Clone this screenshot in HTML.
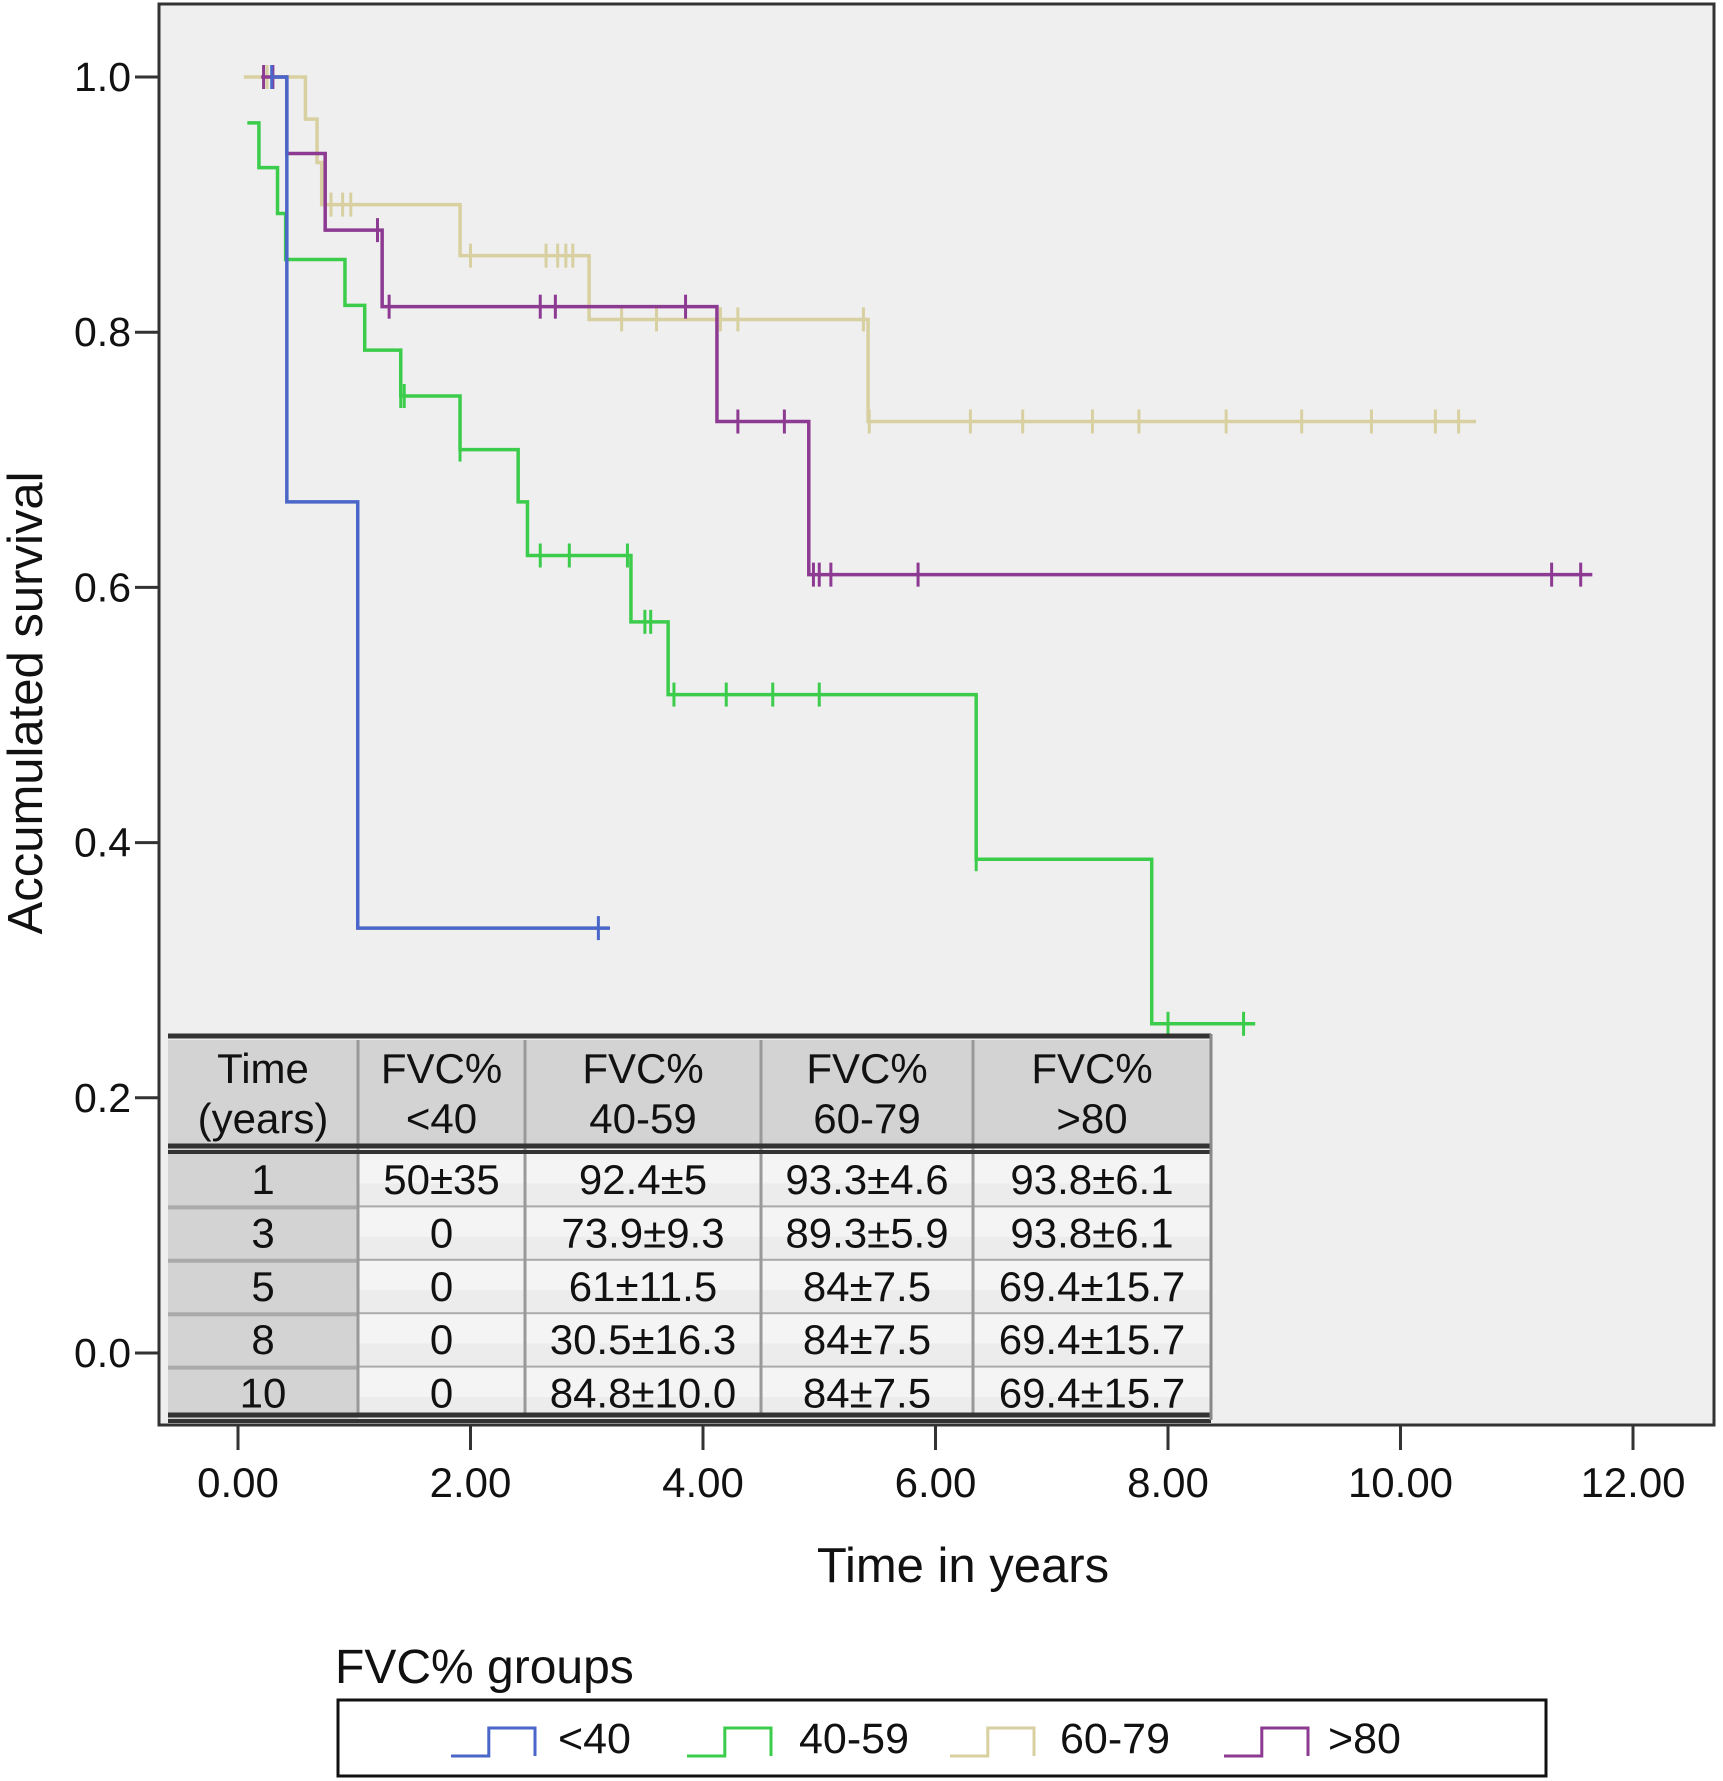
<!DOCTYPE html>
<html><head><meta charset="utf-8"><style>
html,body{margin:0;padding:0;background:#fff}
svg{display:block}
text{font-family:"Liberation Sans",sans-serif;fill:#111}
.tb{font-family:"Liberation Sans Narrow","Liberation Sans",sans-serif;font-size:42px}
</style></head><body>
<svg id="chart" width="1723" height="1781" viewBox="0 0 1723 1781" xmlns="http://www.w3.org/2000/svg">
<rect x="159" y="4" width="1555" height="1421" fill="#efefef" stroke="#333" stroke-width="3"/>
<g id="axes"></g>
<g id="series"></g>
<g id="table"></g>
<text x="963" y="1582" font-size="49" text-anchor="middle">Time in years</text>
<text transform="translate(42,703) rotate(-90)" font-size="49" text-anchor="middle">Accumulated survival</text>
<text x="335" y="1683" font-size="48">FVC% groups</text>
<rect x="338" y="1700" width="1208" height="76" fill="#fff" stroke="#111" stroke-width="3"/>
<g id="legend"></g>
</svg>
<script>
const NS="http://www.w3.org/2000/svg";
const xTicks=[0,2,4,6,8,10,12];
const yTicks=[0,0.2,0.4,0.6,0.8,1.0];
const groupNames=["<40","40-59","60-79",">80"];
const groupColors=["#4a66c8","#3ccc4c","#d8d0a0","#8c3a92"];
const blueT=[0.29,0.42,1.03,3.2];
const blueS=[1.0,0.667,0.333,0.333];
const blueC=[0.29,3.1];
const greenT=[0.08,0.18,0.34,0.41,0.92,1.09,1.4,1.91,2.41,2.49,3.38,3.7,6.35,7.86,8.75];
const greenS=[0.964,0.929,0.893,0.857,0.821,0.786,0.75,0.708,0.667,0.625,0.573,0.516,0.387,0.258,0.258];
const greenC=[1.4,1.43,1.91,2.6,2.85,3.35,3.5,3.55,3.75,4.2,4.6,5.0,6.35,8.0,8.65];
const tanT=[0.05,0.58,0.68,0.72,1.91,3.02,5.42,10.65];
const tanS=[1.0,0.967,0.933,0.9,0.86,0.81,0.73,0.73];
const tanC=[0.25,0.8,0.9,0.97,2.0,2.65,2.75,2.82,2.88,3.3,3.6,4.15,4.3,5.38,5.43,6.3,6.75,7.35,7.75,8.5,9.15,9.75,10.3,10.5];
const purpleT=[0.2,0.42,0.75,1.24,4.12,4.91,11.65];
const purpleS=[1.0,0.94,0.88,0.82,0.73,0.61,0.61];
const purpleC=[0.22,0.3,1.2,1.3,2.6,2.73,3.85,4.3,4.7,4.95,5.0,5.1,5.85,11.3,11.55];
const tableHeader=[["Time","(years)"],["FVC%","<40"],["FVC%","40-59"],["FVC%","60-79"],["FVC%",">80"]];
const tableRows=[["1","50±35","92.4±5","93.3±4.6","93.8±6.1"],["3","0","73.9±9.3","89.3±5.9","93.8±6.1"],["5","0","61±11.5","84±7.5","69.4±15.7"],["8","0","30.5±16.3","84±7.5","69.4±15.7"],["10","0","84.8±10.0","84±7.5","69.4±15.7"]];

const X=t=>238+t*(1633-238)/12;
const Y=v=>1353-v*(1353-77);
function el(tag,attrs,parent,txt){const e=document.createElementNS(NS,tag);for(const k in attrs)e.setAttribute(k,attrs[k]);if(txt!==undefined)e.textContent=txt;parent.appendChild(e);return e;}
const axes=document.getElementById('axes');
xTicks.forEach(t=>{
  const l=el('line',{x1:X(t),x2:X(t),y1:1425,y2:1450,stroke:'#333','stroke-width':3},axes);
  
  
  const tx=el('text',{x:X(t),y:1497,'font-size':42,'text-anchor':'middle'},axes,t.toFixed(2));
  
  
});
yTicks.forEach(v=>{
  const l=el('line',{x1:135,x2:159,y1:Y(v),y2:Y(v),stroke:'#333','stroke-width':3},axes);
  
  
  const tx=el('text',{x:131,y:Y(v)+14,'font-size':41,'text-anchor':'end'},axes,v.toFixed(1));
  
  
});
function survAt(T,S,t){let s=S[0];for(let i=0;i<T.length;i++){if(T[i]<=t)s=S[i];}return s;}
const ser=document.getElementById('series');
const groups=[[blueT,blueS,blueC],[greenT,greenS,greenC],[tanT,tanS,tanC],[purpleT,purpleS,purpleC]];
const order=[2,1,3,0];
order.forEach(g=>{
  const [T,S,C]=groups[g];
  let d=`M${X(T[0])},${Y(S[0])}`;
  for(let i=1;i<T.length;i++){d+=` H${X(T[i])} V${Y(S[i])}`;}
  const p=el('path',{d:d,fill:'none',stroke:groupColors[g],'stroke-width':3.5},ser);
  
  
  C.forEach(c=>{
    const y=Y(survAt(T,S,c));
    const m=el('line',{x1:X(c),x2:X(c),y1:y-12,y2:y+12,stroke:groupColors[g],'stroke-width':3},ser);
    
    
  });
});
const tb=document.getElementById('table');
const colX=[168,358,525,761,973,1211];
const hTop=1040,hBot=1147,rowH=53.4;
const tbg=el('rect',{x:168,y:1034,width:1043,height:388,fill:'#ececec'},tb);


el('rect',{x:168,y:hTop,width:1043,height:hBot-hTop,fill:'#d3d3d3'},tb);
el('rect',{x:168,y:hBot,width:190,height:275,fill:'#d3d3d3'},tb);
for(let r=0;r<5;r++){
  const y0=1154+r*rowH;
  el('rect',{x:358,y:y0,width:853,height:rowH*0.55,fill:'#f4f4f4'},tb);
  el('line',{x1:168,x2:1211,y1:y0+rowH,y2:y0+rowH,stroke:'#aaa','stroke-width':4},tb);
  tableRows[r].forEach((c,j)=>{
    const t=el('text',{x:(colX[j]+colX[j+1])/2,y:y0+40,'text-anchor':'middle',class:'tb'},tb,c);
    
    
  });
}
for(let j=1;j<5;j++)el('line',{x1:colX[j],x2:colX[j],y1:hTop,y2:1415,stroke:'#999','stroke-width':3},tb);
tableHeader.forEach((h,j)=>{
  const t1=el('text',{x:(colX[j]+colX[j+1])/2,y:1083,'text-anchor':'middle',class:'tb'},tb,h[0]);
  
  
  const t2=el('text',{x:(colX[j]+colX[j+1])/2,y:1133,'text-anchor':'middle',class:'tb'},tb,h[1]);
  
  
});
[[1036,5],[1146,5],[1152,4],[1415,5],[1421,4]].forEach(([y,w])=>el('line',{x1:168,x2:1211,y1:y,y2:y,stroke:'#333','stroke-width':w},tb));
el('line',{x1:1211,x2:1211,y1:1034,y2:1420,stroke:'#888','stroke-width':3},tb);
const lg=document.getElementById('legend');
const symX=[451,687,950,1224],txtX=[558,799,1060,1328];
groupNames.forEach((n,i)=>{
  const x=symX[i],w=84;
  const p=el('path',{d:`M${x},1756 H${x+w*0.45} V1728 H${x+w} V1756`,fill:'none',stroke:groupColors[i],'stroke-width':3},lg);
  
  
  const t=el('text',{x:txtX[i],y:1753,'font-size':43},lg,n);
  
  
});
</script>
</body></html>
